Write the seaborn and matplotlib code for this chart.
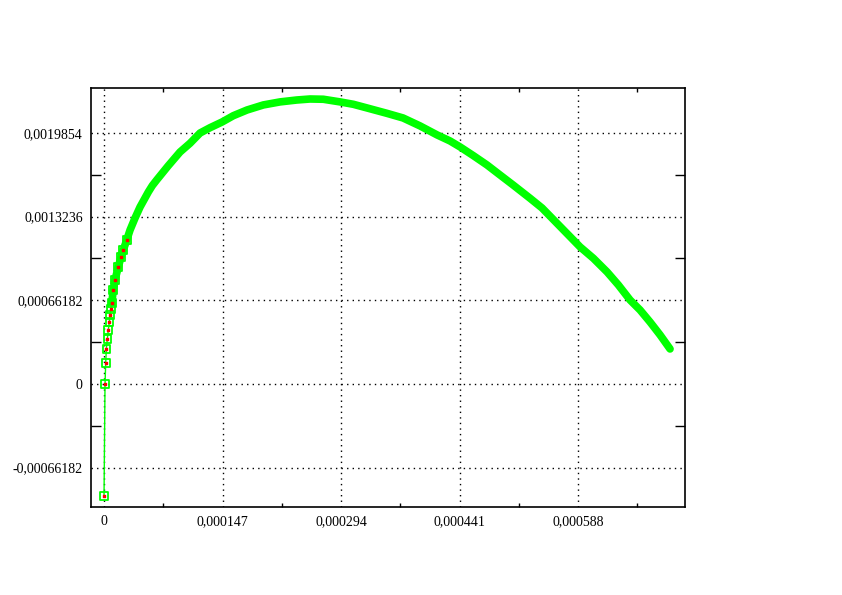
import numpy as np
import pandas as pd
import matplotlib
matplotlib.use('Agg')
import matplotlib.pyplot as plt
from matplotlib.ticker import FixedLocator
import seaborn as sns

# Curve points
x_vals = [0.0, 1.24e-6, 2.1e-6, 2.85e-6, 4.1e-6, 5.3e-6, 6.6e-6, 7.4e-6, 8.7e-6, 9.6e-6,
          11.5e-6, 13.6e-6, 17.7e-6, 21.1e-6, 23.9e-6, 28.2e-6, 32.3e-6, 38.5e-6, 44.7e-6,
          55.0e-6, 59.9e-6, 65.4e-6, 79.4e-6, 94.3e-6, 106.7e-6, 119.1e-6, 131.5e-6,
          146.4e-6, 160.4e-6, 177.4e-6, 197.6e-6, 218.3e-6, 239.0e-6, 255.5e-6, 272.0e-6,
          292.8e-6, 309.3e-6, 326.3e-6, 350.7e-6, 370.9e-6, 392.0e-6, 413.1e-6, 429.2e-6,
          441.6e-6, 458.1e-6, 475.1e-6, 491.2e-6, 507.4e-6, 528.4e-6, 543.3e-6, 578.1e-6,
          590.5e-6, 607.0e-6, 624.0e-6, 638.0e-6, 652.5e-6, 664.9e-6, 677.3e-6, 689.7e-6,
          702.1e-6]
y_vals = [-0.000886, 0.0, 0.000166, 0.000277, 0.000356, 0.000427, 0.000490, 0.000546, 0.000593,
          0.000641, 0.000744, 0.000823, 0.000925, 0.001005, 0.001060, 0.001139, 0.001218,
          0.001313, 0.001400, 0.001519, 0.001569, 0.001614, 0.001724, 0.001835, 0.001904,
          0.001985, 0.002027, 0.002072, 0.002122, 0.002167, 0.002207, 0.002231, 0.002246,
          0.002254, 0.002252, 0.002231, 0.002212, 0.002183, 0.002141, 0.002104, 0.002041,
          0.001970, 0.001922, 0.001875, 0.001806, 0.001732, 0.001653, 0.001574, 0.001469,
          0.001392, 0.001165, 0.001084, 0.000994, 0.000886, 0.000783, 0.000664, 0.000585,
          0.000490, 0.000388, 0.000277]

x_ticks = [0, 0.000147, 0.000294, 0.000441, 0.000588]
x_labels = ['0', '0,000147', '0,000294', '0,000441', '0,000588']
y_ticks = [-0.00066182, 0, 0.00066182, 0.0013236, 0.0019854]
y_labels = ['-0,00066182', '0', '0,00066182', '0,0013236', '0,0019854']

df = pd.DataFrame({'x': x_vals, 'y': y_vals})

sns.set_style('white')
plt.rcParams['font.family'] = ['Liberation Serif', 'DejaVu Serif']

fig = plt.figure(figsize=(8.42, 5.95), dpi=100)
ax = fig.add_axes([0.1081, 0.1479, 0.7055, 0.7042])

green = '#00ff00'
# thin line through all points
sns.lineplot(data=df, x='x', y='y', sort=False, estimator=None, color=green, lw=1, ax=ax)
# thick band where the samples are dense
sns.lineplot(data=df.iloc[9:], x='x', y='y', sort=False, estimator=None, color=green,
             lw=5.5, ax=ax)
# sparse samples near the start: hollow squares with red centres
head = df.iloc[:16]
ax.scatter(head['x'], head['y'], marker='s', s=30, facecolors='none',
           edgecolors=green, linewidths=1.3, zorder=4)
ax.scatter(head['x'], head['y'], marker='s', s=3, color='red', zorder=5)

ax.set_xlim(-1.613e-5, 7.207e-4)
ax.set_ylim(-0.000973, 0.002341)
ax.set_xlabel('')
ax.set_ylabel('')

ax.xaxis.set_major_locator(FixedLocator(x_ticks))
ax.set_xticklabels(x_labels)
ax.yaxis.set_major_locator(FixedLocator(y_ticks))
ax.set_yticklabels(y_labels)
ax.xaxis.set_minor_locator(FixedLocator([0.0000735 + 0.000147 * i for i in range(5)]))
ax.yaxis.set_minor_locator(FixedLocator([-0.00033091 + 0.00066182 * i for i in range(4)]))

ax.grid(True, which='major', color='black', linestyle=(0, (1, 3)), linewidth=1)
ax.tick_params(which='major', length=0, labelsize=10, colors='black')
ax.tick_params(axis='y', which='major', pad=6)
ax.tick_params(axis='x', which='major', pad=6)
ax.tick_params(axis='y', which='minor', direction='in', length=7, width=1,
               left=True, right=True, color='black')
ax.tick_params(axis='x', which='minor', direction='in', length=3, width=1,
               bottom=True, top=True, color='black')
for s in ax.spines.values():
    s.set_visible(True)
    s.set_color('black')
    s.set_linewidth(1.2)

fig.savefig('out.png', dpi=100)
